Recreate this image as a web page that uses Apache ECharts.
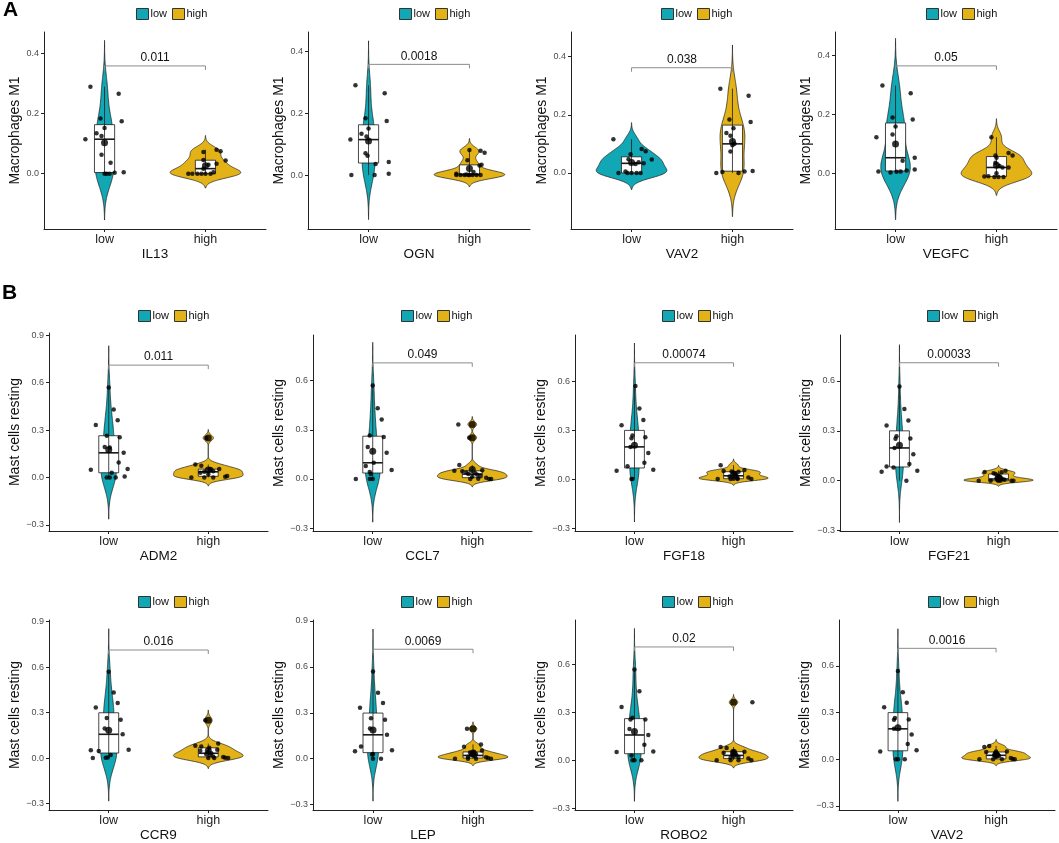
<!DOCTYPE html>
<html>
<head>
<meta charset="utf-8">
<script src="https://cdn.jsdelivr.net/npm/echarts@6/dist/echarts.min.js"></script>
<style>
html,body{margin:0;padding:0;background:#fff}
#main{width:1059px;height:843px}
</style>
</head>
<body>
<div id="main"></div>
<script>
// ---- data: [jitter offset, value] ----
var il13Low  = [[-0.14,0.29],[0.14,0.266],[-0.04,0.184],[0.17,0.175],[0,0.152],[-0.08,0.135],[-0.03,0.126],[-0.19,0.115],[-0.03,0.063],[0.06,0.037],[0,0],[0.05,0],[0.02,0],[0.1,0.003],[0.19,0.005]];
var il13High = [[-0.02,0.072],[0.11,0.08],[0.15,0.075],[0.2,0.044],[-0.02,0.046],[0.11,0.033],[0.03,0.03],[-0.02,0.017],[0.08,0.005],[-0.17,0],[-0.13,0],[-0.08,0],[-0.04,0],[0,0],[0.05,0]];
var ognLow   = [[-0.13,0.291],[0.16,0.265],[-0.03,0.184],[0.18,0.175],[0,0.151],[-0.07,0.134],[-0.02,0.125],[-0.18,0.115],[-0.03,0.071],[-0.01,0.063],[0.2,0.042],[0.07,0.036],[-0.17,0],[0.06,0],[0.2,0.004]];
var ognHigh  = [[0,0.081],[0.11,0.079],[0.15,0.072],[-0.02,0.048],[0.12,0.033],[0.1,0.031],[0.04,0.01],[-0.13,0.004],[-0.03,0.002],[-0.13,0],[-0.09,0],[-0.05,0],[-0.01,0],[0.03,0],[0.07,0],[0.11,0],[0,0]];
var vav2aLow = [[-0.18,0.116],[0.1,0.082],[0.14,0.075],[-0.01,0.064],[-0.03,0.047],[0.2,0.046],[0.07,0.037],[0.12,0.033],[0.04,0.031],[-0.06,0.005],[-0.13,0],[-0.04,0],[0,0],[0.05,0],[0.09,0]];
var vav2aHigh= [[-0.12,0.29],[0.16,0.266],[-0.03,0.184],[0.18,0.175],[0.01,0.154],[-0.06,0.137],[-0.02,0.128],[0.02,0.1],[0,0.095],[-0.02,0.074],[-0.16,0],[-0.1,0.003],[0.06,0],[0.12,0.005],[0.2,0.007]];
var vegfcLow = [[-0.13,0.298],[0.15,0.272],[-0.03,0.19],[0.17,0.183],[0,0.159],[-0.03,0.132],[-0.19,0.123],[0.19,0.053],[0.07,0.043],[-0.17,0.006],[0.01,0.005],[0.05,0.006],[0.11,0.01],[0.19,0.013],[-0.05,0.003]];
var vegfcHigh= [[-0.05,0.123],[-0.01,0.061],[0.12,0.069],[0.16,0.061],[0,0.053],[-0.01,0.036],[0.03,0.025],[0.12,0.02],[0.06,0.02],[-0.12,-0.011],[-0.08,-0.01],[-0.02,-0.012],[0.02,-0.012],[0.07,-0.012],[0,0]];
var adm2Low  = [[0,0.569],[0.05,0.429],[0.09,0.362],[-0.13,0.332],[-0.02,0.264],[0.11,0.254],[-0.04,0.192],[0.01,0.19],[0.15,0.156],[0.1,0.095],[0.19,0.053],[-0.18,0.049],[0.03,0.03],[-0.02,0],[0.01,0],[0.07,0],[0.16,0.006]];
var adm2High = [[-0.02,0.25],[-0.13,0.082],[-0.07,0.074],[0.02,0.053],[0.11,0.053],[-0.04,0.036],[0.03,0.05],[0.05,0.04],[-0.08,0.03],[0,0.02],[-0.17,0],[-0.04,0],[0.05,0],[0.17,0.005],[0.19,0.01]];
var ccl7Low  = [[0,0.57],[0.05,0.432],[0.09,0.363],[-0.03,0.266],[0.11,0.256],[-0.05,0.195],[0.14,0.16],[0.01,0.099],[-0.07,0.079],[0.19,0.055],[-0.03,0.043],[-0.02,0.03],[-0.17,0],[-0.03,0],[0,0]];
var ccl7High = [[-0.14,0.333],[-0.03,0.252],[-0.13,0.085],[-0.18,0.05],[-0.1,0.047],[0.1,0.053],[-0.04,0.03],[0.05,0.026],[-0.02,0],[0.06,0.002],[0.14,0.008],[0.17,0],[0.19,0],[0,0.015],[0.03,0.035],[-0.06,0.04],[0.08,0.02]];
var fgf18Low = [[0.01,0.57],[0.05,0.432],[0.09,0.361],[-0.13,0.33],[-0.02,0.266],[0.11,0.256],[-0.03,0.25],[-0.04,0.197],[0.14,0.16],[0.1,0.1],[-0.07,0.079],[-0.18,0.051],[0.19,0.057],[-0.03,0],[-0.02,0]];
var fgf18High= [[-0.13,0.085],[-0.1,0.05],[0.11,0.055],[-0.02,0.047],[0,0.04],[0.01,0.03],[0.03,0.02],[0.05,0.045],[0.02,0.035],[-0.04,0.015],[0.15,0.01],[0.04,0.005],[-0.16,0],[-0.03,0],[0,0.002],[0.04,0],[0.18,0]];
var fgf21Low = [[0,0.567],[0.05,0.431],[0.09,0.362],[-0.13,0.332],[-0.03,0.268],[0.11,0.254],[-0.04,0.252],[-0.05,0.197],[0.14,0.159],[0.1,0.1],[-0.13,0.085],[-0.06,0.08],[-0.18,0.054],[0.18,0.06],[0.07,0]];
var fgf21High= [[-0.14,0.052],[0.07,0.06],[-0.05,0.044],[0.03,0.05],[-0.03,0.04],[0,0.03],[0.02,0.02],[-0.02,0.015],[0.04,0.01],[0.06,0.005],[-0.01,0.002],[-0.2,0],[0,0],[0.02,0],[0.13,0],[0.15,0],[-0.08,0]];
var ccr9Low  = [[0,0.57],[0.05,0.432],[0.09,0.364],[-0.13,0.334],[-0.02,0.264],[0.12,0.253],[-0.04,0.196],[0.14,0.157],[0.2,0.055],[-0.18,0.051],[-0.1,0.047],[0.02,0.02],[-0.16,0],[-0.03,0.002],[-0.01,0.004]];
var ccr9High = [[-0.03,0.249],[-0.13,0.081],[-0.07,0.077],[0.1,0.096],[-0.08,0.049],[0.09,0.055],[0.01,0.068],[0,0.04],[0.03,0.032],[-0.02,0.025],[0.02,0.02],[0.05,0.01],[0.15,0.008],[0,0],[0.06,0],[0.17,0.002],[0.2,0]];
var lepLow   = [[0,0.569],[0.05,0.431],[0.1,0.364],[-0.13,0.332],[-0.02,0.264],[0.12,0.254],[-0.03,0.197],[0.14,0.156],[-0.12,0.08],[0.19,0.055],[-0.18,0.049],[0,0.03],[-0.01,0.027],[0,0],[0.08,0]];
var lepHigh  = [[-0.06,0.195],[0.08,0.093],[-0.09,0.078],[0.09,0.053],[0.01,0.044],[-0.03,0.04],[0.03,0.03],[-0.02,0.025],[0,0.021],[0.02,0.018],[-0.05,0.012],[0.13,0.01],[0.15,0.004],[-0.18,0],[-0.05,0],[0.03,0],[0.18,0]];
var robo2Low = [[0,0.568],[0.05,0.432],[-0.13,0.333],[0.11,0.255],[-0.02,0.266],[-0.04,0.255],[-0.05,0.195],[0.14,0.158],[0.1,0.097],[-0.18,0.051],[0.19,0.055],[-0.03,0.03],[-0.02,0],[0,0],[0.07,0]];
var robo2High= [[0.19,0.363],[-0.13,0.083],[-0.07,0.077],[-0.1,0.047],[0.11,0.053],[0,0.055],[0.02,0.04],[-0.01,0.035],[0.03,0.03],[0,0.025],[0.05,0.02],[-0.03,0.015],[0.15,0.01],[-0.17,0],[-0.03,0],[0.05,0],[0.18,0]];
var vav2bLow = [[0,0.567],[0.05,0.43],[0.09,0.362],[-0.14,0.333],[-0.03,0.265],[-0.04,0.253],[0.11,0.255],[-0.04,0.195],[0.14,0.159],[0.1,0.097],[-0.18,0.05],[0.19,0.058],[-0.02,0],[0,0],[0.07,0]];
var vav2bHigh= [[-0.07,0.085],[-0.12,0.079],[-0.1,0.046],[0.11,0.05],[0,0.05],[-0.01,0.04],[0.01,0.035],[0.02,0.03],[-0.02,0.025],[0.03,0.02],[0,0.015],[0.15,0.008],[0.17,0.002],[-0.17,0],[-0.03,0],[0.06,0],[0.19,0]];

var genes = ['IL13','OGN','VAV2','VEGFC','ADM2','CCL7','FGF18','FGF21','CCR9','LEP','ROBO2','VAV2'];
var cellTypes = ['Macrophages M1','Macrophages M1','Macrophages M1','Macrophages M1',
  'Mast cells resting','Mast cells resting','Mast cells resting','Mast cells resting',
  'Mast cells resting','Mast cells resting','Mast cells resting','Mast cells resting'];
var lowSets  = [il13Low, ognLow, vav2aLow, vegfcLow, adm2Low, ccl7Low, fgf18Low, fgf21Low, ccr9Low, lepLow, robo2Low, vav2bLow];
var highSets = [il13High, ognHigh, vav2aHigh, vegfcHigh, adm2High, ccl7High, fgf18High, fgf21High, ccr9High, lepHigh, robo2High, vav2bHigh];
var pValues  = ['0.011','0.0018','0.038','0.05','0.011','0.049','0.00074','0.00033','0.016','0.0069','0.02','0.0016'];
var bracketY = [0.359,0.359,0.362,0.365,0.71,0.708,0.712,0.71,0.713,0.715,0.71,0.712];
var yMin = [-0.184,-0.175,-0.193,-0.189,-0.338,-0.317,-0.318,-0.303,-0.343,-0.336,-0.313,-0.327];
var yMax = [0.472,0.464,0.485,0.48,0.913,0.878,0.882,0.877,0.911,0.906,0.879,0.894];
var ticksA = [0, 0.2, 0.4];
var ticksB = [-0.3, 0, 0.3, 0.6, 0.9];
var groups = ['low', 'high'];

// ---- layout ----
var gLeft   = [44,308,571,835, 49,313,575,840, 49,313,575,839];
var gTop    = [32,32,32,32, 333,335,335,335, 620,620,620,620];
var gBottom = [229,229,229,229, 531,531,531,531, 817,817,817,817];
var gWidth  = [222,222,222,222, 219,219,218,218, 219,220,218,216];
var legLeft = [136,399,661,926, 138,401,662,927, 138,401,662,928];
var legTop  = [8,8,8,8, 310,310,310,310, 596,596,596,596];

var colors = ['#12A7B4', '#E3B217'];
var font = 'Liberation Sans, Arial, Helvetica, sans-serif';

function quantile(s, p) {
  var h = (s.length - 1) * p, lo = Math.floor(h);
  var hi = Math.min(lo + 1, s.length - 1);
  return s[lo] + (h - lo) * (s[hi] - s[lo]);
}
function boxStats(v) {
  var s = v.slice().sort(function (a, b) { return a - b; });
  var q1 = quantile(s, 0.25), med = quantile(s, 0.5), q3 = quantile(s, 0.75);
  var iqr = q3 - q1, lf = q1 - 1.5 * iqr, uf = q3 + 1.5 * iqr;
  var inside = s.filter(function (x) { return x >= lf && x <= uf; });
  var mean = s.reduce(function (a, b) { return a + b; }, 0) / s.length;
  return { q1: q1, med: med, q3: q3, lo: inside[0], hi: inside[inside.length - 1],
    out: s.filter(function (x) { return x < lf || x > uf; }), mean: mean };
}
// gaussian kde, R bw.nrd0, tails cut at 3 bw (violin trim = FALSE)
function density(v) {
  var n = v.length, s = v.slice().sort(function (a, b) { return a - b; });
  var m = s.reduce(function (a, b) { return a + b; }, 0) / n;
  var sd = Math.sqrt(s.reduce(function (a, b) { return a + (b - m) * (b - m); }, 0) / (n - 1));
  var iqr = quantile(s, 0.75) - quantile(s, 0.25);
  var lo = Math.min(sd, iqr / 1.34);
  if (!(lo > 0)) lo = sd || Math.abs(s[0]) || 1;
  var bw = 0.9 * lo * Math.pow(n, -0.2);
  var a = s[0] - 3 * bw, b = s[n - 1] + 3 * bw, steps = 160;
  var ys = [], ds = [];
  for (var k = 0; k <= steps; k++) {
    var y = a + (b - a) * k / steps, d = 0;
    for (var j = 0; j < n; j++) { var z = (y - s[j]) / bw; d += Math.exp(-0.5 * z * z); }
    ys.push(y); ds.push(d / (n * bw * Math.sqrt(2 * Math.PI)));
  }
  return { ys: ys, ds: ds };
}

function violinItem(cat, prof, scale, st, color) {
  return function (params, api) {
    var left = [], right = [];
    for (var k = 0; k < prof.ys.length; k++) {
      var w = prof.ds[k] * scale;
      left.push(api.coord([cat - w, prof.ys[k]]));
      right.push(api.coord([cat + w, prof.ys[k]]));
    }
    var outline = left.concat(right.reverse());
    var tl = api.coord([cat - 0.1, st.q3]), br = api.coord([cat + 0.1, st.q1]);
    var ml = api.coord([cat - 0.1, st.med]), mr = api.coord([cat + 0.1, st.med]);
    var wt = api.coord([cat, st.hi]), wb = api.coord([cat, st.lo]);
    return { type: 'group', children: [
      { type: 'polygon', shape: { points: outline }, style: { fill: color, stroke: '#1a1a1a', lineWidth: 0.7 } },
      { type: 'rect', shape: { x: tl[0], y: tl[1], width: br[0] - tl[0], height: br[1] - tl[1] },
        style: { fill: '#fff', stroke: '#1a1a1a', lineWidth: 0.8 } },
      { type: 'line', shape: { x1: wt[0], y1: wt[1], x2: wb[0], y2: wb[1] }, style: { stroke: '#1a1a1a', lineWidth: 0.8 } },
      { type: 'line', shape: { x1: ml[0], y1: ml[1], x2: mr[0], y2: mr[1] }, style: { stroke: '#1a1a1a', lineWidth: 1.6 } }
    ] };
  };
}
function bracketItem(y, label) {
  return function (params, api) {
    var a = api.coord([1, y]), b = api.coord([2, y]);
    return { type: 'group', children: [
      { type: 'polyline', shape: { points: [[a[0], a[1] + 4], a, b, [b[0], b[1] + 4]] },
        style: { stroke: '#8c8c8c', lineWidth: 1, fill: null } },
      { type: 'text', x: (a[0] + b[0]) / 2, y: a[1] - 2,
        style: { text: label, fontSize: 12, fill: '#111', align: 'center', verticalAlign: 'bottom', fontFamily: font } }
    ] };
  };
}
function maxOf(a) { return Math.max.apply(null, a); }
function tickText(v) { var t = v.toFixed(1); return v < 0 ? '\u2212' + t.slice(1) : t; }

var grids = [], xAxes = [], yAxes = [], legends = [], series = [];
genes.forEach(function (gene, i) {
  grids.push({ left: gLeft[i], top: gTop[i], width: gWidth[i], height: gBottom[i] - gTop[i] });
  xAxes.push({
    gridIndex: i, type: 'value', min: 0.4, max: 2.6,
    name: gene, nameLocation: 'middle', nameGap: 8,
    nameTextStyle: { fontSize: 13.5, color: '#111', fontFamily: font },
    axisLine: { onZero: false, lineStyle: { color: '#222', width: 1 } },
    axisTick: { customValues: [1, 2], length: 3, lineStyle: { color: '#222' } },
    axisLabel: { customValues: [1, 2], formatter: function (v) { return groups[Math.round(v) - 1]; },
      fontSize: 12.5, color: '#222', margin: 4, fontFamily: font },
    splitLine: { show: false }
  });
  var ticks = (i < 4 ? ticksA : ticksB).filter(function (t) { return t >= yMin[i] && t <= yMax[i]; });
  yAxes.push({
    gridIndex: i, type: 'value', min: yMin[i], max: yMax[i],
    name: cellTypes[i], nameLocation: 'middle', nameGap: 13,
    nameTextStyle: { fontSize: 14, color: '#111', fontFamily: font },
    axisLine: { show: true, onZero: false, lineStyle: { color: '#222', width: 1 } },
    axisTick: { show: true, customValues: ticks, length: 3, lineStyle: { color: '#222' } },
    axisLabel: { customValues: ticks, formatter: tickText, fontSize: 9, color: '#4d4d4d', margin: 5, fontFamily: font },
    splitLine: { show: false }
  });
  legends.push({
    data: groups, left: legLeft[i], top: legTop[i], padding: 0, icon: 'rect',
    itemWidth: 12, itemHeight: 11, itemGap: 5, selectedMode: false,
    itemStyle: { borderColor: '#333', borderWidth: 1 },
    textStyle: { fontSize: 11, color: '#111', fontFamily: font, padding: [0, 0, 0, -3] }
  });

  var sets = [lowSets[i], highSets[i]];
  var vals = sets.map(function (s) { return s.map(function (p) { return p[1]; }); });
  var prof = vals.map(density);
  var scale = 0.35 / Math.max(maxOf(prof[0].ds), maxOf(prof[1].ds));
  var st = vals.map(boxStats);

  groups.forEach(function (g, k) {
    series.push({
      type: 'custom', name: g, xAxisIndex: i, yAxisIndex: i, silent: true,
      itemStyle: { color: colors[k] }, data: [[k + 1, st[k].med]],
      renderItem: violinItem(k + 1, prof[k], scale, st[k], colors[k])
    });
  });
  var jit = [], big = [];
  sets.forEach(function (s, k) {
    s.forEach(function (p) { jit.push([k + 1 + p[0], p[1]]); });
    st[k].out.forEach(function (o) { big.push([k + 1, o]); });
    big.push([k + 1, st[k].mean]);
  });
  series.push({ type: 'scatter', name: 'points', xAxisIndex: i, yAxisIndex: i, silent: true,
    symbolSize: 4.5, itemStyle: { color: '#000' }, data: jit });
  series.push({ type: 'scatter', name: 'mean', xAxisIndex: i, yAxisIndex: i, silent: true,
    symbolSize: 7, itemStyle: { color: '#000' }, data: big });
  series.push({ type: 'custom', name: 'p', xAxisIndex: i, yAxisIndex: i, silent: true,
    data: [[1.5, bracketY[i]]], renderItem: bracketItem(bracketY[i], pValues[i]) });
});

var chart = echarts.init(document.getElementById('main'));
chart.setOption({
  animation: false,
  backgroundColor: '#fff',
  textStyle: { fontFamily: font },
  title: [
    { text: 'A', left: 3, top: 0, padding: 0, textStyle: { fontSize: 21, fontWeight: 'bold', color: '#000', fontFamily: font } },
    { text: 'B', left: 2, top: 283, padding: 0, textStyle: { fontSize: 21, fontWeight: 'bold', color: '#000', fontFamily: font } }
  ],
  legend: legends,
  grid: grids,
  xAxis: xAxes,
  yAxis: yAxes,
  series: series
});
</script>
</body>
</html>
